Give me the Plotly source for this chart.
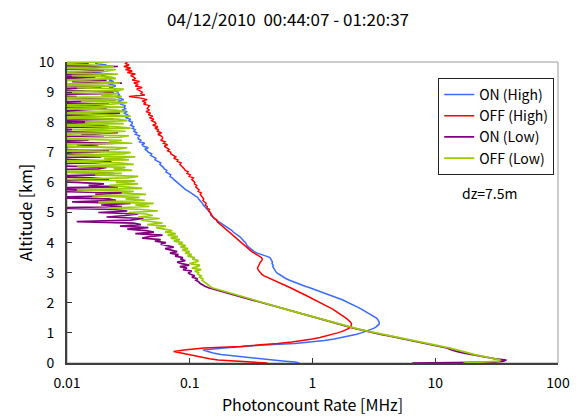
import plotly.graph_objects as go

# ---------------- data ----------------
alt_low = [0.0, 0.03, 0.06, 0.1, 0.14, 0.18, 0.23, 0.28, 0.33, 0.38, 0.43]
alt_grid = [round(0.5 + 0.05 * i, 2) for i in range(191)]  # 0.50 .. 10.00 km
altitude_km = alt_low + alt_grid

on_high = [
    0.78, 0.72, 0.60, 0.47, 0.37, 0.30, 0.22, 0.18, 0.155, 0.138, 0.128,
    0.19, 0.27, 0.40, 0.72, 0.98, 1.25, 1.50, 1.75, 2.00, 2.25,
    2.50, 2.72, 2.95, 3.15, 3.30, 3.42, 3.50, 3.50, 3.46, 3.40,
    3.30, 3.16, 3.00, 2.86, 2.72, 2.60, 2.48, 2.35, 2.22, 2.10,
    2.00, 1.87, 1.75, 1.62, 1.50, 1.40, 1.32, 1.24, 1.14, 1.04,
    0.95, 0.87, 0.80, 0.74, 0.69, 0.65, 0.61, 0.58, 0.55, 0.53,
    0.51, 0.50, 0.49, 0.485, 0.475, 0.478, 0.468, 0.472, 0.465, 0.46,
    0.45, 0.42, 0.38, 0.355, 0.335, 0.322, 0.308, 0.302, 0.293, 0.29,
    0.285, 0.276, 0.271, 0.262, 0.255, 0.243, 0.236, 0.226, 0.221, 0.212,
    0.205, 0.196, 0.190, 0.180, 0.172, 0.164, 0.158, 0.155, 0.149, 0.150,
    0.146, 0.141, 0.139, 0.136, 0.131, 0.129, 0.127, 0.123, 0.121, 0.118,
    0.116, 0.111, 0.107, 0.102, 0.098, 0.093, 0.090, 0.086, 0.083, 0.081,
    0.079, 0.076, 0.074, 0.072, 0.069, 0.070, 0.066, 0.064, 0.065, 0.062,
    0.061, 0.059, 0.057, 0.058, 0.054, 0.052, 0.053, 0.050, 0.048, 0.049,
    0.046, 0.045, 0.043, 0.046, 0.042, 0.041, 0.043, 0.039, 0.040, 0.038,
    0.038, 0.039, 0.036, 0.037, 0.035, 0.036, 0.034, 0.035, 0.033, 0.034,
    0.034, 0.032, 0.033, 0.030, 0.032, 0.031, 0.029, 0.031, 0.028, 0.030,
    0.029, 0.030, 0.027, 0.028, 0.026, 0.029, 0.027, 0.025, 0.027, 0.026,
    0.026, 0.024, 0.025, 0.022, 0.025, 0.023, 0.021, 0.024, 0.022, 0.023,
    0.021, 0.019, 0.022, 0.016, 0.020, 0.018, 0.014, 0.019, 0.021, 0.017,
    0.018,
]

off_high = [
    0.43, 0.30, 0.22, 0.17, 0.145, 0.128, 0.110, 0.095, 0.083, 0.074, 0.090,
    0.13, 0.26, 0.40, 0.52, 0.68, 0.85, 1.00, 1.15, 1.30, 1.47,
    1.60, 1.75, 1.90, 1.98, 2.05, 2.08, 2.08, 2.05, 2.00, 1.93,
    1.86, 1.79, 1.72, 1.66, 1.60, 1.53, 1.45, 1.37, 1.30, 1.22,
    1.16, 1.10, 1.04, 0.98, 0.93, 0.88, 0.83, 0.79, 0.74, 0.70,
    0.66, 0.62, 0.58, 0.54, 0.50, 0.47, 0.44, 0.42, 0.40, 0.385,
    0.375, 0.365, 0.360, 0.356, 0.360, 0.364, 0.370, 0.376, 0.386, 0.390,
    0.385, 0.370, 0.350, 0.335, 0.320, 0.310, 0.300, 0.290, 0.280, 0.270,
    0.262, 0.256, 0.247, 0.241, 0.232, 0.227, 0.219, 0.213, 0.204, 0.199,
    0.192, 0.185, 0.180, 0.176, 0.167, 0.166, 0.159, 0.154, 0.152, 0.148,
    0.147, 0.143, 0.145, 0.138, 0.139, 0.134, 0.136, 0.131, 0.128, 0.130,
    0.127, 0.125, 0.122, 0.124, 0.117, 0.119, 0.114, 0.112, 0.114, 0.109,
    0.110, 0.106, 0.104, 0.107, 0.099, 0.101, 0.095, 0.097, 0.092, 0.090,
    0.088, 0.086, 0.083, 0.085, 0.079, 0.080, 0.074, 0.077, 0.073, 0.070,
    0.070, 0.066, 0.068, 0.065, 0.062, 0.066, 0.061, 0.063, 0.058, 0.060,
    0.060, 0.058, 0.055, 0.059, 0.054, 0.056, 0.052, 0.055, 0.050, 0.053,
    0.052, 0.049, 0.051, 0.047, 0.050, 0.046, 0.048, 0.044, 0.047, 0.045,
    0.046, 0.047, 0.042, 0.044, 0.041, 0.045, 0.040, 0.032, 0.043, 0.040,
    0.041, 0.039, 0.037, 0.041, 0.036, 0.038, 0.035, 0.039, 0.034, 0.036,
    0.035, 0.033, 0.036, 0.031, 0.034, 0.030, 0.033, 0.029, 0.032, 0.030,
    0.031,
]

on_low = [
    6.5, 30, 36, 38, 31, 27, 23, 19.8, 17.2, 15.2, 13.6,
    12.4, 10.9, 9.5, 8.3, 7.2, 6.3, 5.5, 4.8, 4.2, 3.6,
    3.15, 2.75, 2.45, 2.2, 1.98, 1.79, 1.62, 1.46, 1.32, 1.19,
    1.08, 0.97, 0.88, 0.79, 0.71, 0.64, 0.58, 0.52, 0.47, 0.43,
    0.39, 0.35, 0.32, 0.29, 0.26, 0.235, 0.21, 0.19, 0.172, 0.158,
    0.142, 0.133, 0.125, 0.121, 0.118, 0.112, 0.116, 0.104, 0.110, 0.101,
    0.097, 0.104, 0.088, 0.095, 0.083, 0.099, 0.086, 0.079, 0.092, 0.084,
    0.088, 0.076, 0.081, 0.069, 0.079, 0.072, 0.063, 0.074, 0.067, 0.058,
    0.064, 0.052, 0.058, 0.041, 0.047, 0.060, 0.036, 0.051, 0.044, 0.031,
    0.046, 0.027, 0.040, 0.035, 0.012, 0.033, 0.042, 0.021, 0.030, 0.038,
    0.018, 0.031, 0.024, 0.007, 0.028, 0.019, 0.033, 0.011, 0.025, 0.022,
    0.006, 0.024, 0.017, 0.028, 0.009, 0.021, 0.004, 0.026, 0.015, 0.020,
    0.012, 0.004, 0.022, 0.016, 0.006, 0.019, 0.024, 0.008, 0.003, 0.018,
    0.021, 0.009, 0.005, 0.017, 0.023, 0.012, 0.004, 0.019, 0.014, 0.006,
    0.016, 0.022, 0.007, 0.003, 0.018, 0.012, 0.025, 0.005, 0.015, 0.009,
    0.004, 0.020, 0.013, 0.026, 0.006, 0.011, 0.003, 0.022, 0.017, 0.008,
    0.019, 0.005, 0.024, 0.010, 0.003, 0.016, 0.027, 0.007, 0.013, 0.021,
    0.006, 0.015, 0.022, 0.004, 0.018, 0.025, 0.008, 0.012, 0.003, 0.020,
    0.024, 0.010, 0.005, 0.019, 0.014, 0.003, 0.028, 0.011, 0.021, 0.006,
    0.017, 0.004, 0.023, 0.009, 0.020, 0.013, 0.005, 0.026, 0.008, 0.015,
    0.010,
]

off_low = [
    17, 28, 33, 34, 30, 27, 24, 21, 19, 17, 15.3,
    13.0, 11.3, 9.8, 8.5, 7.4, 6.4, 5.6, 4.9, 4.2, 3.7,
    3.2, 2.8, 2.5, 2.25, 2.02, 1.82, 1.64, 1.48, 1.34, 1.2,
    1.09, 0.98, 0.89, 0.80, 0.72, 0.65, 0.59, 0.53, 0.48, 0.44,
    0.40, 0.36, 0.33, 0.30, 0.27, 0.245, 0.22, 0.20, 0.182, 0.168,
    0.152, 0.146, 0.140, 0.136, 0.131, 0.126, 0.128, 0.120, 0.124, 0.116,
    0.118, 0.110, 0.124, 0.104, 0.115, 0.121, 0.099, 0.112, 0.118, 0.105,
    0.110, 0.096, 0.104, 0.092, 0.100, 0.087, 0.097, 0.084, 0.093, 0.081,
    0.088, 0.074, 0.083, 0.070, 0.080, 0.066, 0.077, 0.063, 0.072, 0.059,
    0.053, 0.064, 0.045, 0.060, 0.049, 0.040, 0.057, 0.038, 0.050, 0.044,
    0.032, 0.055, 0.041, 0.022, 0.047, 0.036, 0.051, 0.018, 0.043, 0.030,
    0.039, 0.016, 0.044, 0.028, 0.035, 0.012, 0.041, 0.030, 0.022, 0.038,
    0.025, 0.036, 0.009, 0.031, 0.038, 0.017, 0.028, 0.006, 0.034, 0.024,
    0.030, 0.012, 0.035, 0.026, 0.005, 0.032, 0.020, 0.036, 0.010, 0.029,
    0.033, 0.007, 0.025, 0.031, 0.015, 0.004, 0.034, 0.022, 0.028, 0.008,
    0.027, 0.032, 0.006, 0.019, 0.030, 0.011, 0.033, 0.024, 0.005, 0.029,
    0.014, 0.031, 0.026, 0.004, 0.033, 0.021, 0.008, 0.030, 0.025, 0.010,
    0.029, 0.005, 0.023, 0.031, 0.013, 0.027, 0.003, 0.028, 0.019, 0.026,
    0.007, 0.026, 0.029, 0.012, 0.024, 0.004, 0.027, 0.018, 0.009, 0.025,
    0.023, 0.011, 0.026, 0.004, 0.021, 0.025, 0.008, 0.024, 0.016, 0.006,
    0.022,
]

series_names = ["ON (High)", "OFF (High)", "ON (Low)", "OFF (Low)"]
series_values = [on_high, off_high, on_low, off_low]
series_colors = ["#3A6BFF", "#FF0000", "#800080", "#99CC00"]
series_widths = [1.5, 1.5, 1.7, 1.7]

x_tickvals = [0.01, 0.1, 1, 10, 100]
x_ticktext = ["0.01", "0.1", "1", "10", "100"]
y_tickvals = [0, 1, 2, 3, 4, 5, 6, 7, 8, 9, 10]

title_text = "04/12/2010\u00a0\u00a000:44:07 - 01:20:37"
note_text = "dz=7.5m"

# ---------------- figure ----------------
FONT = "Noto Sans CJK JP, Noto Sans, sans-serif"

fig = go.Figure()
for name, vals, col, w in zip(series_names, series_values, series_colors, series_widths):
    fig.add_trace(go.Scatter(
        x=vals, y=altitude_km, mode="lines", name=name,
        line=dict(color=col, width=w),
    ))

fig.update_layout(
    width=576, height=416,
    margin=dict(l=67, r=18, t=62, b=53),
    paper_bgcolor="white", plot_bgcolor="white",
    font=dict(family=FONT, size=14, color="black"),
    title=dict(text=title_text, x=0.5, xanchor="center", y=0.952, yanchor="middle",
               font=dict(size=17)),
    showlegend=True,
    legend=dict(x=0.756, y=0.947, xanchor="left", yanchor="top",
                bgcolor="white", bordercolor="#222222", borderwidth=1,
                font=dict(size=14), itemwidth=30, tracegroupgap=0),
)

fig.update_xaxes(
    type="log", range=[-2, 2], tickvals=x_tickvals, ticktext=x_ticktext,
    ticks="inside", ticklen=5, tickcolor="#333333", tickwidth=1,
    showline=True, linecolor="#404040", linewidth=2,
    showgrid=False, zeroline=False, automargin=False,
    title=dict(text="Photoncount Rate [MHz]", standoff=10, font=dict(size=16)),
    ticklabelstandoff=6,
)
fig.update_yaxes(
    range=[0, 10], tickvals=y_tickvals,
    ticks="inside", ticklen=5, tickcolor="#333333", tickwidth=1,
    showline=True, linecolor="#404040", linewidth=2,
    showgrid=False, zeroline=False, automargin=False,
    title=dict(text="Altitude [km]", standoff=2, font=dict(size=16)),
    ticklabelstandoff=8,
)

# light frame on top/right
fig.add_shape(type="rect", xref="paper", yref="paper", x0=0, x1=1, y0=0, y1=1,
              line=dict(color="#9a9a9a", width=1), layer="below")

fig.add_annotation(text=note_text, xref="paper", yref="paper", x=0.8615, y=0.565,
                   showarrow=False, xanchor="center", yanchor="middle",
                   font=dict(size=14))

fig.write_html("out.html")
